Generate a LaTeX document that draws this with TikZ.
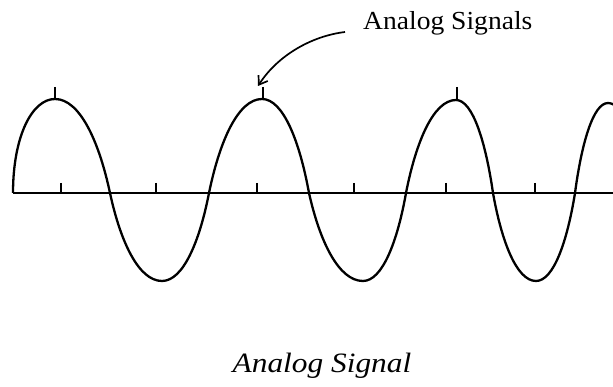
\documentclass[tikz,border=0pt]{standalone}
\usepackage{fontspec}
\setmainfont{Liberation Serif}
\usetikzlibrary{arrows.meta}
\begin{document}
\begin{tikzpicture}[x=1pt,y=-1pt,
  wave/.style={line width=2.3pt, line join=round},
  axisline/.style={line width=2.8pt},
  tickmark/.style={line width=1.6pt},
  lbl/.style={font=\fontsize{26}{30}\selectfont, inner sep=0pt, xscale=1.06},
  captiontext/.style={font=\itshape\fontsize{28}{32}\selectfont, inner sep=0pt, xscale=1.12},
  pointer/.style={line width=1.7pt, -{Straight Barb[length=8pt,width=11pt]}}]
\useasboundingbox (0,0) rectangle (613,387);
\def\ka{0.2}\def\ca{0.55}\def\kb{0.55}
% axis
\draw[axisline] (13,193) -- (613,193);
% axis ticks
\foreach \t in {61,156,257,354,446,535}
  \draw[tickmark] (\t,183) -- (\t,193);
% peak ticks
\foreach \t/\b in {55/99,263/99,457/100}
  \draw[tickmark] (\t,87) -- (\t,\b);
% wave
\begin{scope}
\clip (0,0) rectangle (613,387);
\draw[wave] (13,193) .. controls (13,{193+0.6*(99-193)}) and ({13+0.45*(55-13)},99) .. (55,99)
  .. controls ({55+0.45*(110-55)},99) and ({55+0.8*(110-55)},{193+\ca*(99-193)}) .. (110,193)
  \foreach \a/\b/\c/\d in {110/162/281/209, 209/262/99/309, 309/363/281/406, 406/456/100/493, 493/536/281/575, 575/608/103/645}{
    .. controls ({\a+\ka*(\b-\a)},{193+\ca*(\c-193)}) and ({\a+\kb*(\b-\a)},\c) .. (\b,\c)
    .. controls ({\b+(1-\kb)*(\d-\b)},\c) and ({\b+(1-\ka)*(\d-\b)},{193+\ca*(\c-193)}) .. (\d,193)
  };
\end{scope}
% label and arrow
\node[lbl, anchor=base west] (label) at (363,30) {Analog Signals};
\coordinate (arrowstart) at (345,32);
\coordinate (arrowend) at (258,86);
\draw[pointer] (arrowstart) .. controls (312,36) and (278,55) .. (arrowend);
% caption
\node[captiontext, anchor=base] (caption) at (322,372) {Analog Signal};
\end{tikzpicture}
\end{document}
